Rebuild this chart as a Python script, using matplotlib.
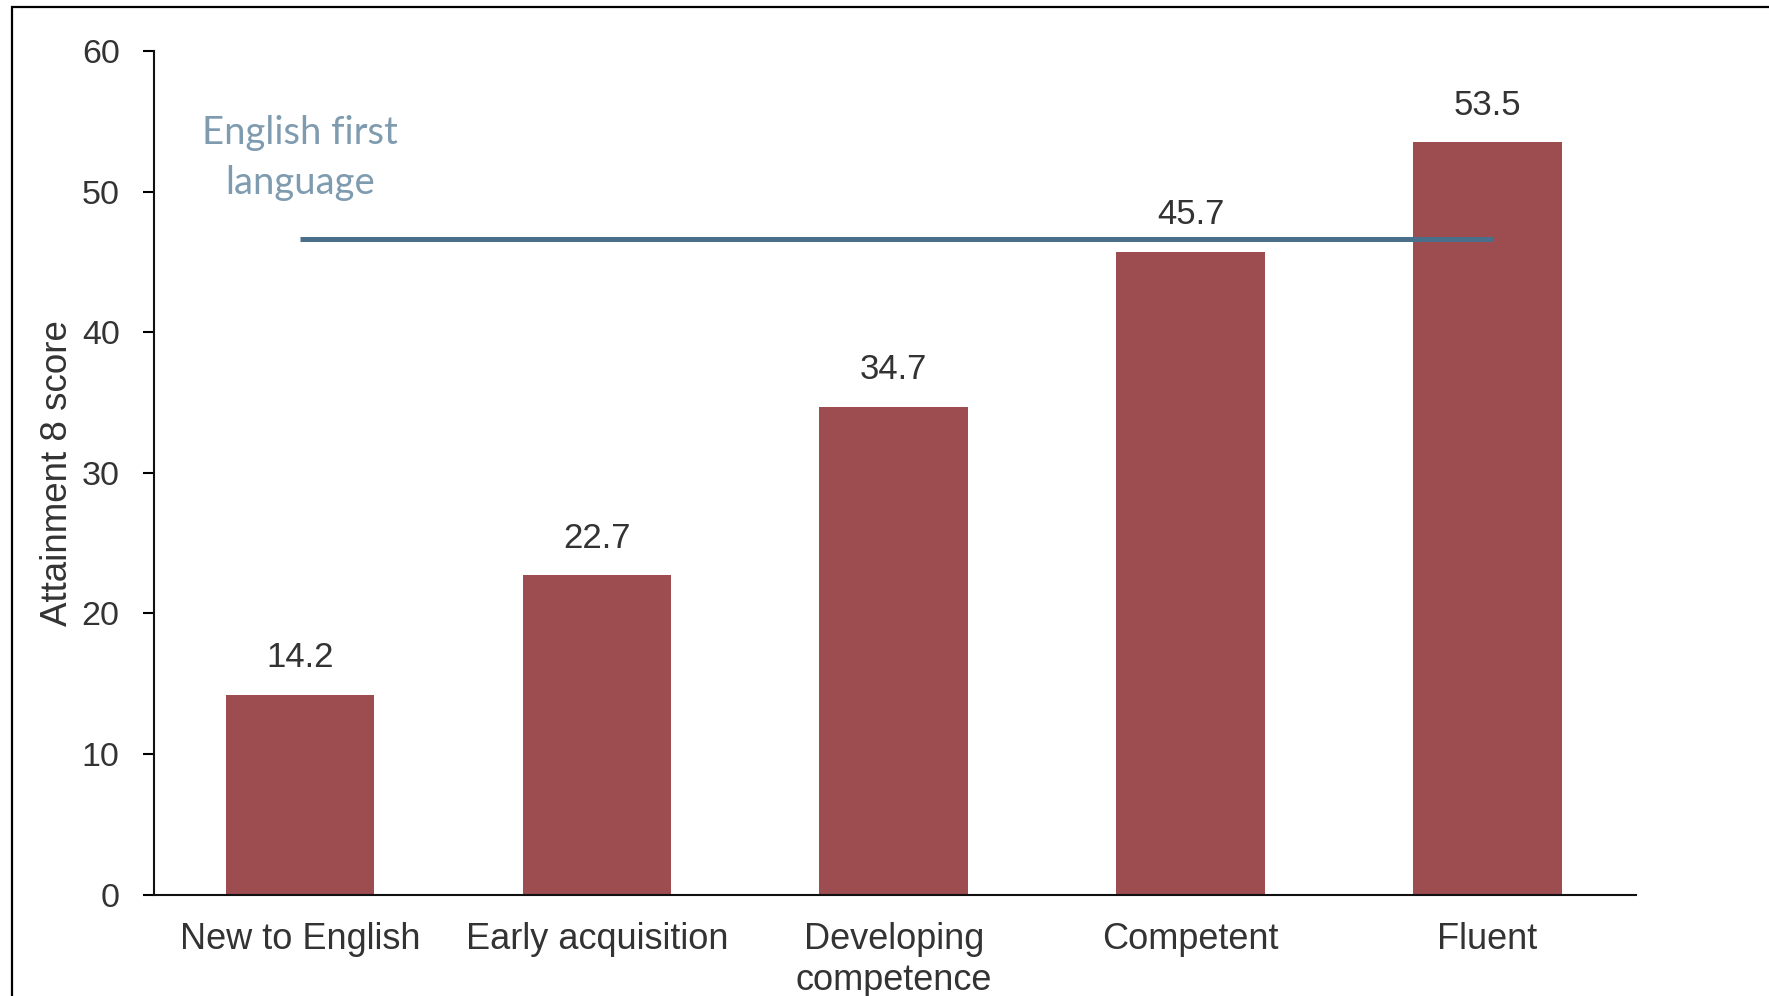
import matplotlib
matplotlib.use("Agg")
import matplotlib.pyplot as plt
from matplotlib.patches import Rectangle

# Attainment 8 score by English proficiency stage
categories = ["New to English", "Early acquisition", "Developing\ncompetence",
              "Competent", "Fluent"]
scores = [14.2, 22.7, 34.7, 45.7, 53.5]
english_first = 46.6  # reference line: pupils with English as first language
yticks = [0, 10, 20, 30, 40, 50, 60]

bar_color = "#9d4c50"
line_color = "#4a6f8a"
text_color = "#333333"
font = ["Liberation Sans", "DejaVu Sans"]

fig = plt.figure(figsize=(17.69, 9.96), dpi=100)
ax = fig.add_axes([0.0873, 0.1018, 0.8375, 0.847])

x = list(range(len(categories)))
ax.bar(x, scores, width=0.5, color=bar_color, zorder=2)

# value labels above bars
for xi, v in zip(x, scores):
    ax.annotate(f"{v}", xy=(xi, v), xytext=(0, 15), textcoords="offset points",
                ha="center", va="bottom", fontsize=25, color=text_color,
                family=font)

# English first language reference line
ax.hlines(english_first, x[0], x[-1] + 0.02, color=line_color, linewidth=3.6,
          zorder=3)
ax.text(0, 52.4, "English first\nlanguage", ha="center", va="center",
        fontsize=27.5, color="#7f9bb0", family=["Lato", "DejaVu Sans"],
        linespacing=1.5)

ax.set_xlim(-0.49, 4.5)
ax.set_ylim(0, 60)
ax.set_yticks(yticks)
ax.set_xticks(x)
ax.set_xticklabels(categories, family=font, fontsize=26, color=text_color,
                   linespacing=1.2)
ax.set_yticklabels([str(t) for t in yticks], family=font, fontsize=24.5,
                   color=text_color)
ax.tick_params(axis="y", length=8, width=1.5, pad=17)
ax.tick_params(axis="x", length=0, pad=20)
ax.set_ylabel("Attainment 8 score", family=font, fontsize=26.5,
              color=text_color, labelpad=5)

for side in ["top", "right"]:
    ax.spines[side].set_visible(False)
for side in ["left", "bottom"]:
    ax.spines[side].set_linewidth(1.5)
    ax.spines[side].set_color("#111111")

# outer frame of the original slide
fig.patches.append(Rectangle((12 / 1769, -0.1), 2, 1.1 - 7 / 996,
                             transform=fig.transFigure, fill=False,
                             linewidth=1.6, edgecolor="black"))

plt.savefig("out.png", dpi=100)
